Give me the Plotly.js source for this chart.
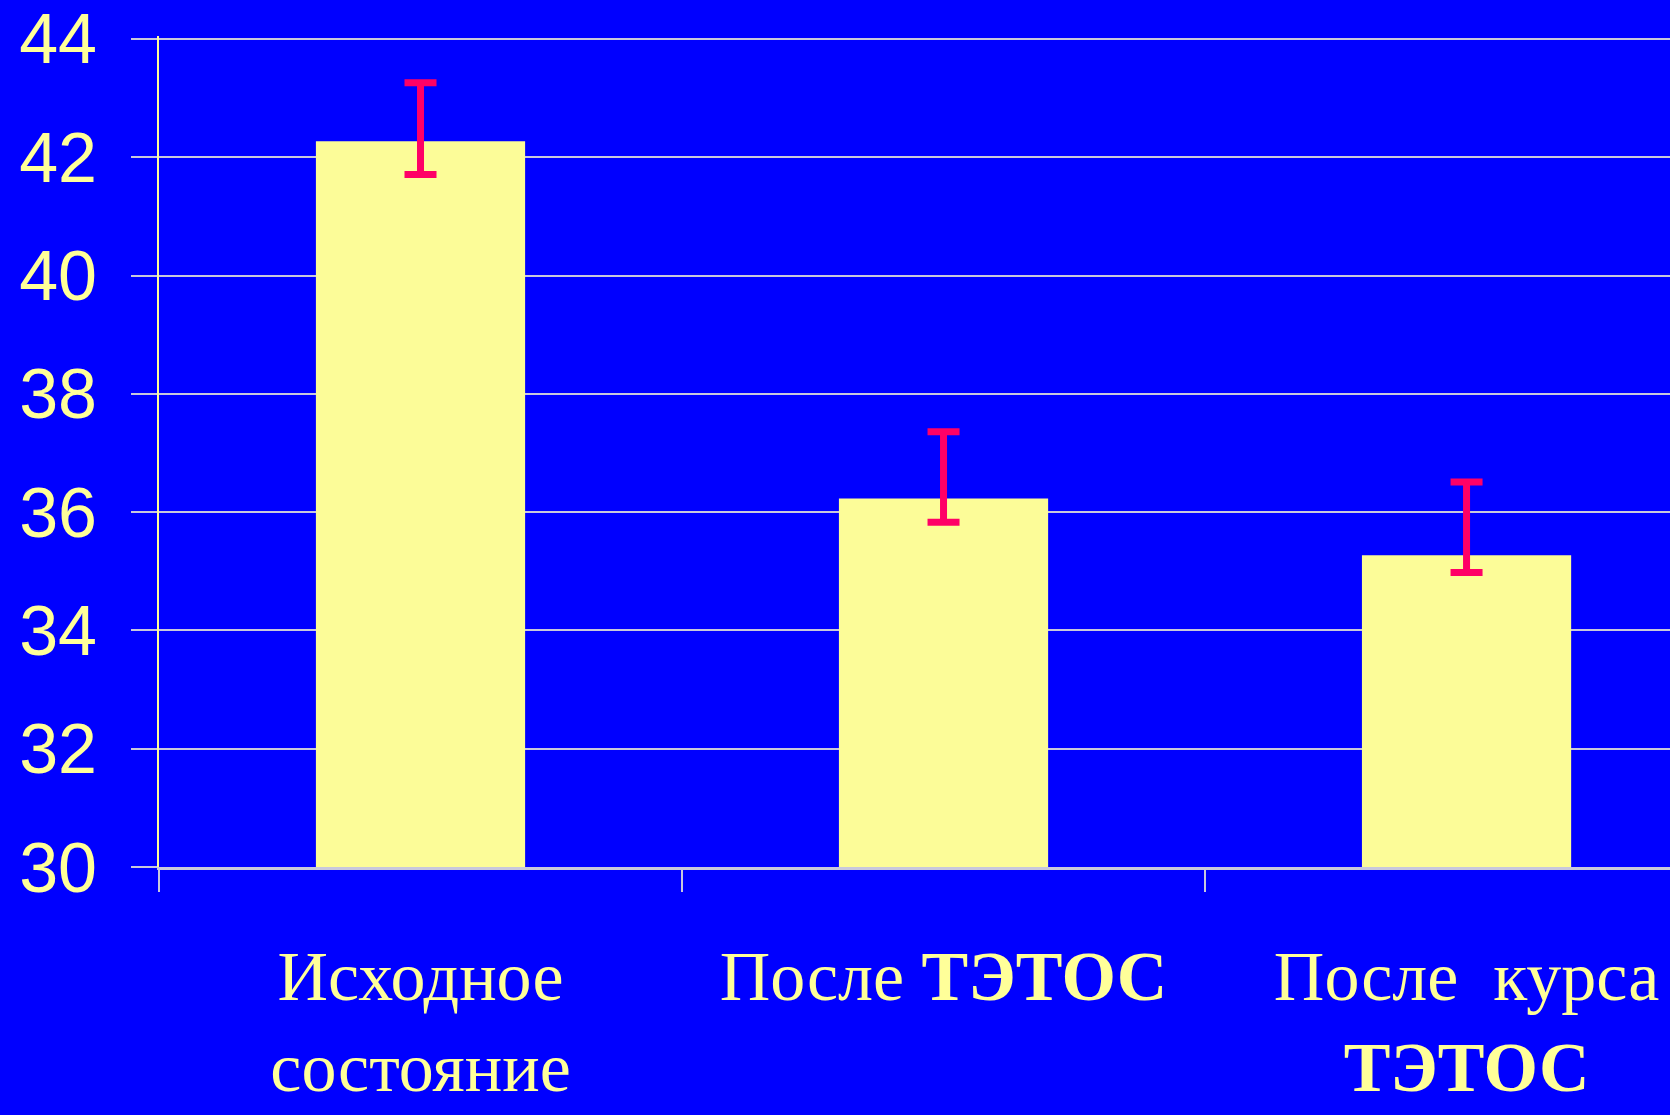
<!DOCTYPE html>
<html>
<head>
<meta charset="utf-8">
<script src="https://cdn.plot.ly/plotly-3.0.1.min.js"></script>
<style>
  html, body { margin: 0; padding: 0; background: #0000ff; }
  #chart { width: 1670px; height: 1115px; }
</style>
</head>
<body>
<div id="chart"></div>
<script>
// Data
const categories = ["Исходное<br>состояние", "После <b>ТЭТОС</b>", "После  курса<br><b>ТЭТОС</b>"];
const values = [42.27, 36.23, 35.27];
const errorUp = [0.99, 1.13, 1.24];
const errorDown = [0.56, 0.40, 0.29];
const yTicks = [30, 32, 34, 36, 38, 40, 42, 44];

const yellow = "#FFFF99";
const grid = "#C8C8DC";

const trace = {
  type: "bar",
  x: categories,
  y: values,
  marker: { color: "#FCFC98", line: { width: 0 } },
  error_y: {
    type: "data",
    symmetric: false,
    array: errorUp,
    arrayminus: errorDown,
    color: "#FF0066",
    thickness: 7,
    width: 16
  },
  hoverinfo: "skip"
};

const layout = {
  width: 1670,
  height: 1115,
  paper_bgcolor: "#0000FF",
  plot_bgcolor: "#0000FF",
  margin: { l: 159, r: 0, t: 36, b: 248 },
  bargap: 0.6,
  showlegend: false,
  xaxis: {
    type: "category",
    range: [-0.5, 2.389],
    tickson: "boundaries",
    ticks: "outside",
    ticklen: 22,
    tickwidth: 2,
    tickcolor: grid,
    showgrid: false,
    showline: true,
    linecolor: grid,
    linewidth: 3,
    tickfont: { family: "Liberation Serif, Times New Roman, serif", size: 70, color: yellow },
    ticklabelstandoff: 46,
    tickangle: 0,
    fixedrange: true
  },
  yaxis: {
    range: [30, 44.05],
    tickvals: yTicks,
    ticktext: yTicks.map(String),
    ticks: "outside",
    ticklen: 26,
    tickwidth: 2,
    tickcolor: grid,
    showgrid: true,
    gridcolor: grid,
    gridwidth: 2,
    zeroline: false,
    showline: true,
    linecolor: yellow,
    linewidth: 2,
    tickfont: { family: "Liberation Sans, Arial, sans-serif", size: 70, color: yellow },
    ticklabelstandoff: 20,
    fixedrange: true
  }
};

Plotly.newPlot("chart", [trace], layout, { displayModeBar: false, staticPlot: true });
</script>
</body>
</html>
